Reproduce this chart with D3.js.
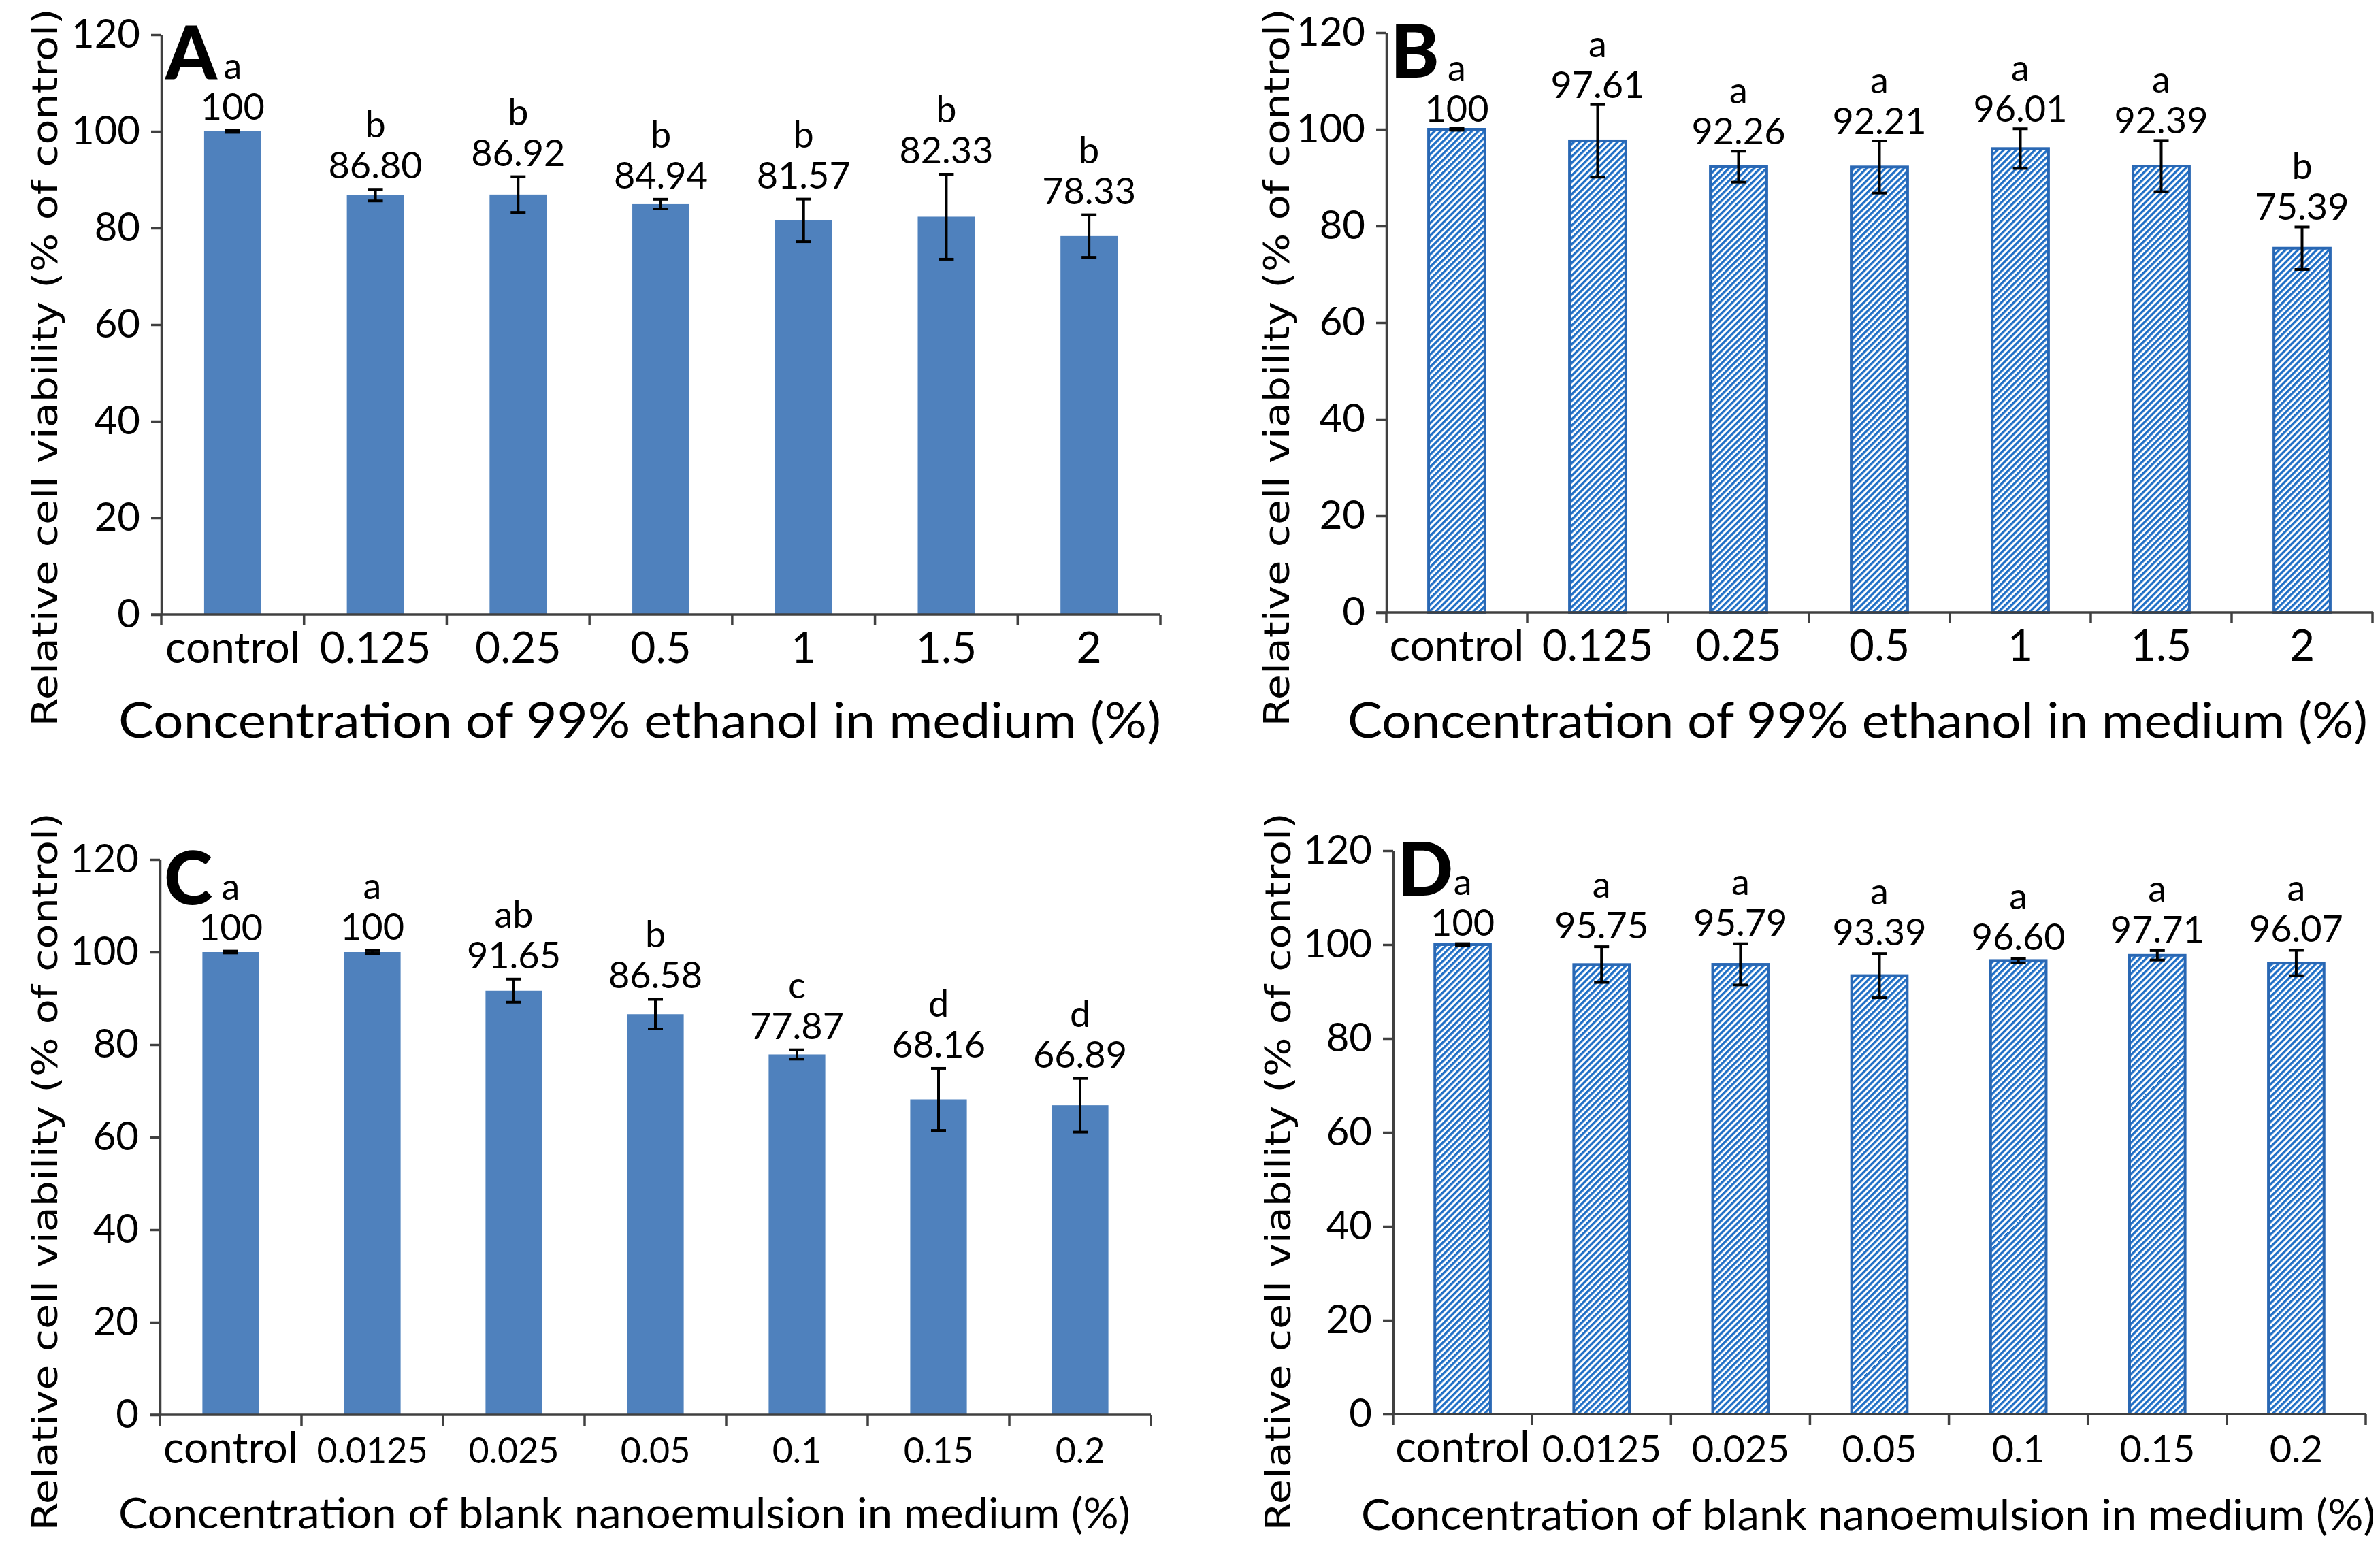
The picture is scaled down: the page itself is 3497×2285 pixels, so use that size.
<!DOCTYPE html>
<html>
<head>
<meta charset="utf-8">
<script src="https://cdn.jsdelivr.net/npm/d3@7"></script>
<style>
  body { margin: 0; background: #fff; }
  svg { display: block; }
  text { font-family: Lato, "Open Sans", sans-serif; fill: #000; }
</style>
</head>
<body>
<svg id="fig" width="3497" height="2285"></svg>
<script>
// categories
const ethanolCats = ['control', '0.125', '0.25', '0.5', '1', '1.5', '2'];
const nanoCats = ['control', '0.0125', '0.025', '0.05', '0.1', '0.15', '0.2'];
const yTicks = [0, 20, 40, 60, 80, 100, 120];

// A - ethanol, solid bars
const meansA = [100, 86.80, 86.92, 84.94, 81.57, 82.33, 78.33];
const errA = [0.2, 1.2, 3.7, 1.0, 4.4, 8.8, 4.4];
const lettersA = ['a', 'b', 'b', 'b', 'b', 'b', 'b'];

// B - ethanol, hatched bars
const meansB = [100, 97.61, 92.26, 92.21, 96.01, 92.39, 75.39];
const errB = [0.2, 7.5, 3.2, 5.4, 4.1, 5.3, 4.4];
const lettersB = ['a', 'a', 'a', 'a', 'a', 'a', 'b'];

// C - blank nanoemulsion, solid bars
const meansC = [100, 100, 91.65, 86.58, 77.87, 68.16, 66.89];
const errC = [0.2, 0.3, 2.5, 3.2, 1.0, 6.7, 5.8];
const lettersC = ['a', 'a', 'ab', 'b', 'c', 'd', 'd'];

// D - blank nanoemulsion, hatched bars
const meansD = [100, 95.75, 95.79, 93.39, 96.60, 97.71, 96.07];
const errD = [0.2, 3.8, 4.4, 4.7, 0.5, 1.0, 2.7];
const lettersD = ['a', 'a', 'a', 'a', 'a', 'a', 'a'];

const yTitle = 'Relative cell viability (% of control)';
const xTitleEthanol = 'Concentration of 99% ethanol in medium (%)';
const xTitleNano = 'Concentration of blank nanoemulsion in medium (%)';

const svg = d3.select('#fig');

// hatch pattern for B and D
const defs = svg.append('defs');
const hatch = defs.append('pattern')
    .attr('id', 'hatch')
    .attr('patternUnits', 'userSpaceOnUse')
    .attr('width', 6.5)
    .attr('height', 6.5)
    .attr('patternTransform', 'rotate(45)');
hatch.append('rect').attr('width', 6.5).attr('height', 6.5).attr('fill', '#ffffff');
hatch.append('rect').attr('width', 3.4).attr('height', 6.5).attr('fill', '#1f6fc6');

const panels = [
  { tag: 'A', cats: ethanolCats, means: meansA, errs: errA, letters: lettersA, hatched: false,
    x0: 237, x1: 1705, y0: 903, y1: 51, gap: 16, numFont: 64,
    xTitle: xTitleEthanol, xtX: 174, xtLen: 1532, xtY: 1084, xtFont: 72,
    ytX: 84, ytY: 540 },
  { tag: 'B', cats: ethanolCats, means: meansB, errs: errB, letters: lettersB, hatched: true,
    x0: 2037, x1: 3486, y0: 900, y1: 48, gap: 10, numFont: 64,
    xTitle: xTitleEthanol, xtX: 1980, xtLen: 1499, xtY: 1084, xtFont: 72,
    ytX: 1894, ytY: 540 },
  { tag: 'C', cats: nanoCats, means: meansC, errs: errC, letters: lettersC, hatched: false,
    x0: 235, x1: 1691, y0: 2079, y1: 1263, gap: 16, numFont: 52,
    xTitle: xTitleNano, xtX: 174, xtLen: 1487, xtY: 2246, xtFont: 62,
    ytX: 84, ytY: 1722 },
  { tag: 'D', cats: nanoCats, means: meansD, errs: errD, letters: lettersD, hatched: true,
    x0: 2047, x1: 3476, y0: 2078, y1: 1250, gap: 12, numFont: 56,
    xTitle: xTitleNano, xtX: 2000, xtLen: 1490, xtY: 2248, xtFont: 62,
    ytX: 1896, ytY: 1722 }
];

panels.forEach(drawPanel);

function drawPanel(p) {
  const g = svg.append('g').attr('class', 'panel panel-' + p.tag);

  const x = d3.scaleBand()
      .domain(p.cats)
      .range([p.x0, p.x1])
      .paddingInner(0.6)
      .paddingOuter(0.3);

  const y = d3.scaleLinear()
      .domain([0, 120])
      .range([p.y0, p.y1]);

  const rows = p.cats.map((c, i) => ({
    cat: c, mean: p.means[i], err: p.errs[i], letter: p.letters[i]
  }));

  // bars
  g.selectAll('.bar')
    .data(rows)
    .join('rect')
      .attr('class', 'bar')
      .attr('x', d => x(d.cat))
      .attr('width', x.bandwidth())
      .attr('y', d => y(d.mean))
      .attr('height', d => y(0) - y(d.mean))
      .attr('fill', p.hatched ? 'url(#hatch)' : '#4f81bd')
      .attr('stroke', p.hatched ? '#2a68b4' : 'none')
      .attr('stroke-width', p.hatched ? 4 : 0);

  // y axis
  const yAxis = d3.axisLeft(y)
      .tickValues(yTicks)
      .tickSize(15)
      .tickSizeOuter(0)
      .tickPadding(16);

  const yG = g.append('g')
      .attr('transform', `translate(${p.x0},0)`)
      .call(yAxis);
  yG.select('.domain').attr('stroke', '#404040').attr('stroke-width', 3.5);
  yG.selectAll('.tick line').attr('stroke', '#404040').attr('stroke-width', 3.5);
  yG.selectAll('.tick text')
      .attr('fill', '#000')
      .style('font-size', '58px')
      .style('font-family', 'Lato, sans-serif');

  // x axis: labels at band centres, ticks at band boundaries
  const xAxis = d3.axisBottom(x).tickSize(0).tickSizeOuter(0);
  const xG = g.append('g')
      .attr('transform', `translate(0,${p.y0})`)
      .call(xAxis);
  xG.select('.domain').attr('stroke', '#404040').attr('stroke-width', 3.5)
      .attr('d', `M${p.x0 - 15},0H${p.x1}`);
  xG.selectAll('.tick text')
      .attr('y', 71)
      .attr('dy', null)
      .attr('fill', '#000')
      .style('font-family', 'Lato, sans-serif')
      .style('font-size', d => (d === 'control' ? 64 : p.numFont) + 'px');

  const bounds = d3.range(p.cats.length + 1).map(i => p.x0 + i * x.step());
  xG.selectAll('.bound')
    .data(bounds)
    .join('line')
      .attr('class', 'bound')
      .attr('x1', d => d).attr('x2', d => d)
      .attr('y1', 0).attr('y2', 16)
      .attr('stroke', '#404040')
      .attr('stroke-width', 3.5);

  // error bars
  const cap = 11;
  const eb = g.selectAll('.err')
    .data(rows)
    .join('g')
      .attr('class', 'err')
      .attr('stroke', '#000')
      .attr('stroke-width', 4);
  eb.append('line')
      .attr('x1', d => x(d.cat) + x.bandwidth() / 2)
      .attr('x2', d => x(d.cat) + x.bandwidth() / 2)
      .attr('y1', d => y(d.mean + d.err))
      .attr('y2', d => y(d.mean - d.err));
  eb.append('line')
      .attr('x1', d => x(d.cat) + x.bandwidth() / 2 - cap)
      .attr('x2', d => x(d.cat) + x.bandwidth() / 2 + cap)
      .attr('y1', d => y(d.mean + d.err))
      .attr('y2', d => y(d.mean + d.err));
  eb.append('line')
      .attr('x1', d => x(d.cat) + x.bandwidth() / 2 - cap)
      .attr('x2', d => x(d.cat) + x.bandwidth() / 2 + cap)
      .attr('y1', d => y(d.mean - d.err))
      .attr('y2', d => y(d.mean - d.err));

  // value labels and significance letters
  const fmt = v => (v === 100 ? '100' : v.toFixed(2));
  g.selectAll('.val')
    .data(rows)
    .join('text')
      .attr('class', 'val')
      .attr('x', d => x(d.cat) + x.bandwidth() / 2)
      .attr('y', d => y(d.mean + d.err) - p.gap)
      .attr('text-anchor', 'middle')
      .style('font-size', '54px')
      .text(d => fmt(d.mean));

  g.selectAll('.letter')
    .data(rows)
    .join('text')
      .attr('class', 'letter')
      .attr('x', d => x(d.cat) + x.bandwidth() / 2)
      .attr('y', d => y(d.mean + d.err) - p.gap - 60)
      .attr('text-anchor', 'middle')
      .style('font-size', '54px')
      .text(d => d.letter);

  // panel tag
  g.append('text')
      .attr('x', p.x0 + 6)
      .attr('y', p.y1 + 66)
      .style('font-size', '108px')
      .style('font-weight', 900)
      .text(p.tag);

  // axis titles
  g.append('text')
      .attr('x', p.xtX)
      .attr('y', p.xtY)
      .attr('textLength', p.xtLen)
      .attr('lengthAdjust', 'spacingAndGlyphs')
      .style('font-size', p.xtFont + 'px')
      .text(p.xTitle);

  g.append('text')
      .attr('transform', `translate(${p.ytX},${p.ytY}) rotate(-90)`)
      .attr('text-anchor', 'middle')
      .attr('textLength', 1055)
      .attr('lengthAdjust', 'spacingAndGlyphs')
      .style('font-family', '"DejaVu Sans", sans-serif')
      .style('font-size', '52px')
      .text(yTitle);
}
</script>
</body>
</html>
